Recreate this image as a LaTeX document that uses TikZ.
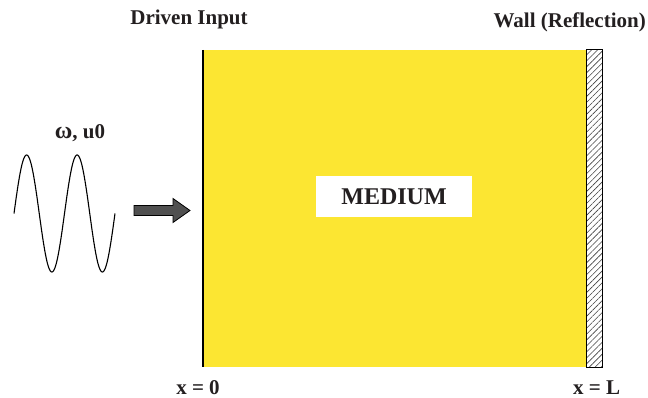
\documentclass[tikz,border=0pt]{standalone}
\usepackage{fontspec}
\setmainfont{Liberation Serif}
\usetikzlibrary{patterns.meta}
\definecolor{medyellow}{RGB}{252,230,50}
\definecolor{txt}{RGB}{35,31,32}
\definecolor{arrowgray}{RGB}{80,80,80}
\tikzset{
  lbl/.style={font=\bfseries\fontsize{21}{25}\selectfont, text=txt, inner sep=0pt},
  medlbl/.style={font=\bfseries\fontsize{24}{28}\selectfont, text=txt, fill=white, minimum width=156pt, minimum height=41pt, inner sep=0pt},
  wave/.style={line width=1.1pt, black},
}
\begin{document}
\begin{tikzpicture}[x=1pt,y=-1pt]
\useasboundingbox (0,0) rectangle (648,398);
% medium
\fill[medyellow] (203,50) rectangle (586,367);
\draw[line width=1.5pt, black] (203,50) -- (203,367);
% wall
\draw[line width=1pt, black, pattern={Lines[angle=45,distance=4.2pt,line width=0.6pt]}, pattern color=black!75] (586,50) rectangle (602,367);
% medium label
\node[medlbl] (med) at (394,196.5) {MEDIUM};
% labels
\node[lbl] (drv) at (189,19) {Driven Input};
\node[lbl, anchor=east] (wall) at (646,22) {Wall (Reflection)};
\node[lbl] (x0) at (198,388) {x = 0};
\node[lbl, anchor=west] (xL) at (573,388) {x = L};
\node[lbl] (om) at (80,133) {{\fontsize{24}{28}\selectfont ω}, u0};
% wave
\draw[wave] plot[domain=0:101, samples=200, smooth] ({14+\x}, {213.5 - 58.5*sin(7.1287*\x)});
% arrow
\draw[line width=0.8pt, black, fill=arrowgray] (134,205.5) -- (173,205.5) -- (173,198.5) -- (190,210.5) -- (173,222.5) -- (173,215.5) -- (134,215.5) -- cycle;
\end{tikzpicture}
\end{document}
